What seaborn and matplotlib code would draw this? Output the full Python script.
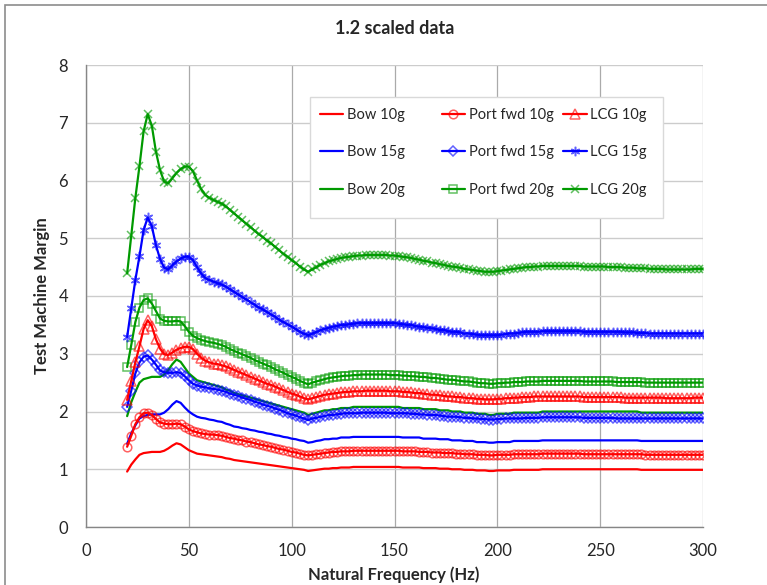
import matplotlib
matplotlib.use("Agg")
import matplotlib.pyplot as plt
from matplotlib.patches import Rectangle
from matplotlib.legend import Legend
import seaborn as sns

# ---------------- data ----------------
freq = list(range(20, 301, 2))  # Hz

bow_10g = [
    0.96, 1.08, 1.17, 1.25, 1.28, 1.29, 1.30, 1.30, 1.30, 1.32,
    1.36, 1.41, 1.45, 1.43, 1.38, 1.33, 1.30, 1.27, 1.26, 1.25,
    1.24, 1.23, 1.22, 1.21, 1.19, 1.18, 1.16, 1.15, 1.14, 1.13,
    1.12, 1.11, 1.10, 1.09, 1.08, 1.07, 1.06, 1.05, 1.04, 1.03,
    1.02, 1.01, 1.00, 0.99, 0.97,
    0.98, 0.99, 1.00, 1.01, 1.01, 1.02, 1.02, 1.03, 1.03, 1.03,
    1.04, 1.04, 1.04, 1.04, 1.04, 1.04, 1.04, 1.04, 1.04, 1.04,
    1.04, 1.04, 1.03, 1.03, 1.03, 1.03, 1.03, 1.02, 1.02, 1.02,
    1.02, 1.01, 1.01, 1.01, 1.00, 1.00, 1.00, 0.99, 0.99, 0.99,
    0.98, 0.98, 0.98, 0.97, 0.97, 0.98, 0.98, 0.98, 0.98, 0.99,
    0.99, 0.99, 0.99, 0.99, 0.99, 0.99, 1.00, 1.00, 1.00, 1.00,
    1.00, 1.00, 1.00, 1.00, 1.00, 1.00, 1.00, 1.00, 1.00, 1.00,
    1.00, 1.00, 1.00, 1.00, 1.00, 1.00, 1.00, 1.00, 1.00, 1.00,
    0.99, 0.99, 0.99, 0.99, 0.99, 0.99, 0.99, 0.99, 0.99, 0.99,
    0.99, 0.99, 0.99, 0.99, 0.99, 0.99]

bow_15g = [
    1.44, 1.62, 1.76, 1.88, 1.92, 1.94, 1.95, 1.95, 1.95, 1.98,
    2.04, 2.12, 2.18, 2.15, 2.07, 2.00, 1.95, 1.91, 1.89, 1.88,
    1.86, 1.85, 1.83, 1.82, 1.79, 1.77, 1.74, 1.73, 1.71, 1.70,
    1.68, 1.67, 1.65, 1.64, 1.62, 1.61, 1.59, 1.58, 1.56, 1.55,
    1.53, 1.52, 1.50, 1.49, 1.46,
    1.47, 1.49, 1.50, 1.52, 1.52, 1.53, 1.53, 1.55, 1.55, 1.55,
    1.56, 1.56, 1.56, 1.56, 1.56, 1.56, 1.56, 1.56, 1.56, 1.56,
    1.56, 1.56, 1.55, 1.55, 1.55, 1.55, 1.55, 1.53, 1.53, 1.53,
    1.53, 1.52, 1.52, 1.52, 1.50, 1.50, 1.50, 1.49, 1.49, 1.49,
    1.47, 1.47, 1.47, 1.46, 1.46, 1.47, 1.47, 1.47, 1.47, 1.49,
    1.49, 1.49, 1.49, 1.49, 1.49, 1.49, 1.50, 1.50, 1.50, 1.50,
    1.50, 1.50, 1.50, 1.50, 1.50, 1.50, 1.50, 1.50, 1.50, 1.50,
    1.50, 1.50, 1.50, 1.50, 1.50, 1.50, 1.50, 1.50, 1.50, 1.50,
    1.49, 1.49, 1.49, 1.49, 1.49, 1.49, 1.49, 1.49, 1.49, 1.49,
    1.49, 1.49, 1.49, 1.49, 1.49, 1.49]

bow_20g = [
    1.92, 2.16, 2.34, 2.50, 2.56, 2.58, 2.60, 2.60, 2.60, 2.64,
    2.72, 2.82, 2.90, 2.86, 2.76, 2.66, 2.60, 2.54, 2.52, 2.50,
    2.48, 2.46, 2.44, 2.42, 2.38, 2.36, 2.32, 2.30, 2.28, 2.26,
    2.24, 2.22, 2.20, 2.18, 2.16, 2.14, 2.12, 2.10, 2.08, 2.06,
    2.04, 2.02, 2.00, 1.98, 1.94,
    1.96, 1.98, 2.00, 2.02, 2.02, 2.04, 2.04, 2.06, 2.06, 2.06,
    2.08, 2.08, 2.08, 2.08, 2.08, 2.08, 2.08, 2.08, 2.08, 2.08,
    2.08, 2.08, 2.06, 2.06, 2.06, 2.06, 2.06, 2.04, 2.04, 2.04,
    2.04, 2.02, 2.02, 2.02, 2.00, 2.00, 2.00, 1.98, 1.98, 1.98,
    1.96, 1.96, 1.96, 1.94, 1.94, 1.96, 1.96, 1.96, 1.96, 1.98,
    1.98, 1.98, 1.98, 1.98, 1.98, 1.98, 2.00, 2.00, 2.00, 2.00,
    2.00, 2.00, 2.00, 2.00, 2.00, 2.00, 2.00, 2.00, 2.00, 2.00,
    2.00, 2.00, 2.00, 2.00, 2.00, 2.00, 2.00, 2.00, 2.00, 2.00,
    1.98, 1.98, 1.98, 1.98, 1.98, 1.98, 1.98, 1.98, 1.98, 1.98,
    1.98, 1.98, 1.98, 1.98, 1.98, 1.98]

port_10g = [
    1.39, 1.58, 1.78, 1.90, 1.97, 1.98, 1.94, 1.87, 1.81, 1.79,
    1.78, 1.78, 1.79, 1.78, 1.74, 1.69, 1.66, 1.64, 1.62, 1.61,
    1.60, 1.60, 1.59, 1.58, 1.56, 1.54, 1.53, 1.51, 1.50, 1.48,
    1.47, 1.45, 1.43, 1.42, 1.40, 1.39, 1.37, 1.35, 1.34, 1.32,
    1.30, 1.29, 1.27, 1.25, 1.24,
    1.25, 1.26, 1.27, 1.28, 1.29, 1.30, 1.30, 1.31, 1.31, 1.31,
    1.32, 1.32, 1.32, 1.32, 1.32, 1.32, 1.32, 1.32, 1.32, 1.32,
    1.32, 1.32, 1.31, 1.31, 1.31, 1.31, 1.30, 1.30, 1.30, 1.29,
    1.29, 1.29, 1.28, 1.28, 1.28, 1.27, 1.27, 1.26, 1.26, 1.26,
    1.25, 1.25, 1.25, 1.24, 1.24, 1.25, 1.25, 1.25, 1.25, 1.26,
    1.26, 1.26, 1.26, 1.26, 1.26, 1.26, 1.27, 1.27, 1.27, 1.27,
    1.27, 1.27, 1.27, 1.27, 1.27, 1.27, 1.26, 1.26, 1.26, 1.26,
    1.26, 1.26, 1.26, 1.26, 1.26, 1.26, 1.26, 1.26, 1.26, 1.26,
    1.26, 1.25, 1.25, 1.25, 1.25, 1.25, 1.25, 1.25, 1.25, 1.25,
    1.25, 1.25, 1.25, 1.25, 1.25, 1.25]

port_15g = [
    2.08, 2.36, 2.66, 2.85, 2.95, 2.97, 2.90, 2.81, 2.71, 2.68,
    2.67, 2.67, 2.68, 2.67, 2.61, 2.54, 2.48, 2.45, 2.43, 2.42,
    2.40, 2.39, 2.38, 2.36, 2.34, 2.31, 2.29, 2.27, 2.24, 2.22,
    2.20, 2.17, 2.15, 2.12, 2.10, 2.08, 2.05, 2.03, 2.00, 1.97,
    1.95, 1.93, 1.90, 1.88, 1.85,
    1.88, 1.89, 1.91, 1.92, 1.94, 1.94, 1.95, 1.96, 1.97, 1.97,
    1.97, 1.97, 1.98, 1.98, 1.98, 1.98, 1.98, 1.98, 1.98, 1.97,
    1.97, 1.97, 1.97, 1.97, 1.96, 1.96, 1.95, 1.95, 1.94, 1.94,
    1.94, 1.93, 1.92, 1.91, 1.91, 1.91, 1.90, 1.89, 1.89, 1.88,
    1.88, 1.87, 1.87, 1.86, 1.86, 1.87, 1.87, 1.88, 1.88, 1.88,
    1.88, 1.88, 1.89, 1.89, 1.89, 1.89, 1.90, 1.90, 1.90, 1.90,
    1.90, 1.90, 1.90, 1.90, 1.90, 1.90, 1.89, 1.89, 1.89, 1.89,
    1.89, 1.89, 1.89, 1.89, 1.88, 1.88, 1.88, 1.88, 1.88, 1.88,
    1.88, 1.88, 1.88, 1.88, 1.88, 1.88, 1.88, 1.88, 1.88, 1.88,
    1.88, 1.88, 1.88, 1.88, 1.88, 1.88]

port_20g = [
    2.77, 3.15, 3.55, 3.80, 3.93, 3.96, 3.87, 3.74, 3.61, 3.57,
    3.56, 3.56, 3.57, 3.56, 3.48, 3.38, 3.31, 3.27, 3.24, 3.22,
    3.20, 3.19, 3.17, 3.15, 3.12, 3.08, 3.05, 3.02, 2.99, 2.96,
    2.93, 2.89, 2.86, 2.83, 2.80, 2.77, 2.73, 2.70, 2.67, 2.63,
    2.60, 2.57, 2.53, 2.50, 2.47,
    2.50, 2.52, 2.54, 2.56, 2.58, 2.59, 2.60, 2.61, 2.62, 2.62,
    2.63, 2.63, 2.64, 2.64, 2.64, 2.64, 2.64, 2.64, 2.64, 2.63,
    2.63, 2.63, 2.62, 2.62, 2.61, 2.61, 2.60, 2.60, 2.59, 2.58,
    2.58, 2.57, 2.56, 2.55, 2.55, 2.54, 2.53, 2.52, 2.52, 2.51,
    2.50, 2.49, 2.49, 2.48, 2.48, 2.49, 2.49, 2.50, 2.50, 2.51,
    2.51, 2.51, 2.52, 2.52, 2.52, 2.52, 2.53, 2.53, 2.53, 2.53,
    2.53, 2.53, 2.53, 2.53, 2.53, 2.53, 2.52, 2.52, 2.52, 2.52,
    2.52, 2.52, 2.52, 2.52, 2.51, 2.51, 2.51, 2.51, 2.51, 2.51,
    2.51, 2.50, 2.50, 2.50, 2.50, 2.50, 2.50, 2.50, 2.50, 2.50,
    2.50, 2.50, 2.50, 2.50, 2.50, 2.50]

lcg_10g = [
    2.20, 2.53, 2.85, 3.13, 3.43, 3.58, 3.48, 3.25, 3.09, 2.99,
    2.98, 3.02, 3.07, 3.10, 3.12, 3.12, 3.08, 3.00, 2.93, 2.88,
    2.85, 2.83, 2.82, 2.80, 2.78, 2.75, 2.72, 2.69, 2.66, 2.63,
    2.60, 2.57, 2.54, 2.51, 2.48, 2.46, 2.43, 2.40, 2.37, 2.34,
    2.31, 2.29, 2.26, 2.23, 2.21,
    2.23, 2.25, 2.27, 2.29, 2.30, 2.31, 2.32, 2.33, 2.34, 2.34,
    2.35, 2.35, 2.35, 2.36, 2.36, 2.36, 2.36, 2.36, 2.36, 2.35,
    2.35, 2.35, 2.34, 2.34, 2.33, 2.32, 2.32, 2.31, 2.30, 2.29,
    2.29, 2.28, 2.27, 2.26, 2.26, 2.25, 2.25, 2.24, 2.23, 2.23,
    2.22, 2.22, 2.21, 2.21, 2.21, 2.22, 2.22, 2.23, 2.23, 2.24,
    2.24, 2.25, 2.25, 2.25, 2.26, 2.26, 2.26, 2.26, 2.26, 2.26,
    2.26, 2.26, 2.26, 2.26, 2.26, 2.26, 2.25, 2.25, 2.25, 2.25,
    2.25, 2.25, 2.25, 2.25, 2.25, 2.25, 2.24, 2.24, 2.24, 2.24,
    2.24, 2.24, 2.24, 2.24, 2.24, 2.24, 2.23, 2.23, 2.23, 2.23,
    2.23, 2.23, 2.23, 2.24, 2.24, 2.24]

lcg_15g = [
    3.29, 3.79, 4.28, 4.69, 5.14, 5.36, 5.21, 4.88, 4.64, 4.49,
    4.46, 4.53, 4.60, 4.65, 4.68, 4.68, 4.62, 4.50, 4.39, 4.31,
    4.28, 4.25, 4.22, 4.20, 4.16, 4.12, 4.07, 4.03, 3.98, 3.94,
    3.89, 3.85, 3.80, 3.77, 3.72, 3.68, 3.64, 3.59, 3.55, 3.51,
    3.47, 3.43, 3.38, 3.35, 3.32,
    3.35, 3.38, 3.41, 3.43, 3.45, 3.47, 3.48, 3.50, 3.50, 3.51,
    3.52, 3.53, 3.53, 3.53, 3.53, 3.53, 3.53, 3.53, 3.53, 3.53,
    3.53, 3.52, 3.51, 3.50, 3.50, 3.48, 3.47, 3.46, 3.45, 3.44,
    3.43, 3.41, 3.41, 3.39, 3.38, 3.38, 3.37, 3.35, 3.35, 3.34,
    3.33, 3.32, 3.32, 3.32, 3.32, 3.32, 3.33, 3.34, 3.35, 3.35,
    3.36, 3.37, 3.38, 3.38, 3.38, 3.38, 3.39, 3.39, 3.39, 3.39,
    3.39, 3.39, 3.39, 3.39, 3.39, 3.39, 3.38, 3.38, 3.38, 3.38,
    3.38, 3.38, 3.38, 3.38, 3.38, 3.38, 3.37, 3.37, 3.37, 3.36,
    3.36, 3.36, 3.35, 3.35, 3.35, 3.35, 3.35, 3.35, 3.35, 3.35,
    3.35, 3.35, 3.35, 3.35, 3.35, 3.35]

lcg_20g = [
    4.39, 5.05, 5.70, 6.25, 6.85, 7.15, 6.95, 6.50, 6.18, 5.98,
    5.95, 6.04, 6.13, 6.20, 6.24, 6.24, 6.16, 6.00, 5.85, 5.75,
    5.70, 5.66, 5.63, 5.60, 5.55, 5.49, 5.43, 5.37, 5.31, 5.25,
    5.19, 5.13, 5.07, 5.02, 4.96, 4.91, 4.85, 4.79, 4.73, 4.68,
    4.62, 4.57, 4.51, 4.46, 4.42,
    4.46, 4.50, 4.54, 4.57, 4.60, 4.62, 4.64, 4.66, 4.67, 4.68,
    4.69, 4.70, 4.70, 4.71, 4.71, 4.71, 4.71, 4.71, 4.71, 4.70,
    4.70, 4.69, 4.68, 4.67, 4.66, 4.64, 4.63, 4.61, 4.60, 4.58,
    4.57, 4.55, 4.54, 4.52, 4.51, 4.50, 4.49, 4.47, 4.46, 4.45,
    4.44, 4.43, 4.42, 4.42, 4.42, 4.43, 4.44, 4.45, 4.46, 4.47,
    4.48, 4.49, 4.50, 4.50, 4.51, 4.51, 4.52, 4.52, 4.52, 4.52,
    4.52, 4.52, 4.52, 4.52, 4.52, 4.52, 4.51, 4.51, 4.51, 4.51,
    4.51, 4.51, 4.50, 4.50, 4.50, 4.50, 4.49, 4.49, 4.49, 4.48,
    4.48, 4.48, 4.47, 4.47, 4.47, 4.47, 4.46, 4.46, 4.46, 4.46,
    4.46, 4.46, 4.46, 4.47, 4.47, 4.47]

series_names = ["Bow 10g", "Bow 15g", "Bow 20g",
                "Port fwd 10g", "Port fwd 15g", "Port fwd 20g",
                "LCG 10g", "LCG 15g", "LCG 20g"]
series_values = [bow_10g, bow_15g, bow_20g,
                 port_10g, port_15g, port_20g,
                 lcg_10g, lcg_15g, lcg_20g]
for v in series_values:
    assert len(v) == len(freq), len(v)

# ---------------- styles ----------------
RED, BLUE, GREEN = "#ff0000", "#0000ff", "#009a00"
colors = [RED, BLUE, GREEN] * 3
markers = [None, None, None, "o", "D", "s", "^", (6, 2, 0), "x"]
msizes = [0, 0, 0, 6.2, 4.8, 6.0, 6.6, 6.8, 6.2]

sns.set_style("white")
plt.rcParams["font.family"] = ["Lato", "DejaVu Sans"]

W, H = 767, 585
fig = plt.figure(figsize=(W / 100, H / 100), dpi=100)
L, R, T, B = 86, 703, 65, 527
ax = fig.add_axes([L / W, 1 - B / H, (R - L) / W, (B - T) / H])

handles = []
for name, vals, c, m, ms in zip(series_names, series_values, colors, markers, msizes):
    kw = dict(x=freq, y=vals, ax=ax, color=c, linewidth=1.6, label=name,
              legend=False, errorbar=None, sort=False)
    if m is not None:
        rgba = matplotlib.colors.to_rgba(c, 0.62)
        kw.update(marker=m, markersize=ms, markerfacecolor="none",
                  markeredgecolor=rgba, markeredgewidth=1.1)
    sns.lineplot(**kw)
    handles.append(ax.lines[-1])

# ---------------- axes ----------------
ax.set_xlim(0, 300)
ax.set_ylim(0, 8)
ax.set_xticks(range(0, 301, 50))
ax.set_xticks(range(0, 301, 10), minor=True)
ax.set_yticks(range(0, 9))
ax.grid(axis="y", which="major", color="#cccccc", linewidth=1.0)
ax.grid(axis="x", which="major", color="#aaaaaa", linewidth=0.9)
ax.set_axisbelow(True)
for s in ("top", "right"):
    ax.spines[s].set_visible(False)
for s in ("left", "bottom"):
    ax.spines[s].set_color("#868686")
    ax.spines[s].set_linewidth(1.0)
ax.tick_params(axis="x", which="both", direction="inout", length=5,
               color="#868686", labelsize=12, pad=9, width=0.8)
ax.tick_params(axis="y", which="major", direction="out", length=4,
               color="#868686", labelsize=12, pad=9, width=0.8)

ax.set_xlabel("Natural Frequency (Hz)", fontsize=12, fontweight="bold")
ax.set_ylabel("Test Machine Margin", fontsize=12, fontweight="bold")
ax.xaxis.label.set_va("center")
ax.yaxis.label.set_va("center")
ax.xaxis.set_label_coords((394 - L) / (R - L), (B - 575) / (B - T))
ax.yaxis.set_label_coords((42 - L) / (R - L), 0.5)
ax.set_title("1.2 scaled data", fontsize=13, fontweight="bold",
             y=1 + (T - 28) / (B - T), va="center", pad=0)

# ---------------- legend ----------------
box = Rectangle((310 / W, 1 - 218 / H), 353 / W, 121 / H,
                transform=fig.transFigure, facecolor="white",
                edgecolor="#d9d9d9", linewidth=1.0, zorder=4)
ax.add_patch(box)
col_x = [320, 441.7, 563.3]
for ci in range(3):
    hs = handles[ci * 3:(ci + 1) * 3]
    labs = series_names[ci * 3:(ci + 1) * 3]
    leg = Legend(ax, hs, labs, loc="upper left",
                 bbox_to_anchor=(col_x[ci] / W, 1 - 108 / H),
                 bbox_transform=fig.transFigure, frameon=False,
                 borderpad=0, borderaxespad=0, handlelength=1.6,
                 handletextpad=0.25, labelspacing=1.6, fontsize=10.5)
    leg.set_zorder(5)
    ax.add_artist(leg)

# outer chart border
fig.patches.append(Rectangle((5 / W, -0.05), 1.1, 1 - 5 / H + 0.05,
                             transform=fig.transFigure, fill=False,
                             edgecolor="#8c8c8c", linewidth=1.2, zorder=10))

fig.savefig("out.png", dpi=100)
